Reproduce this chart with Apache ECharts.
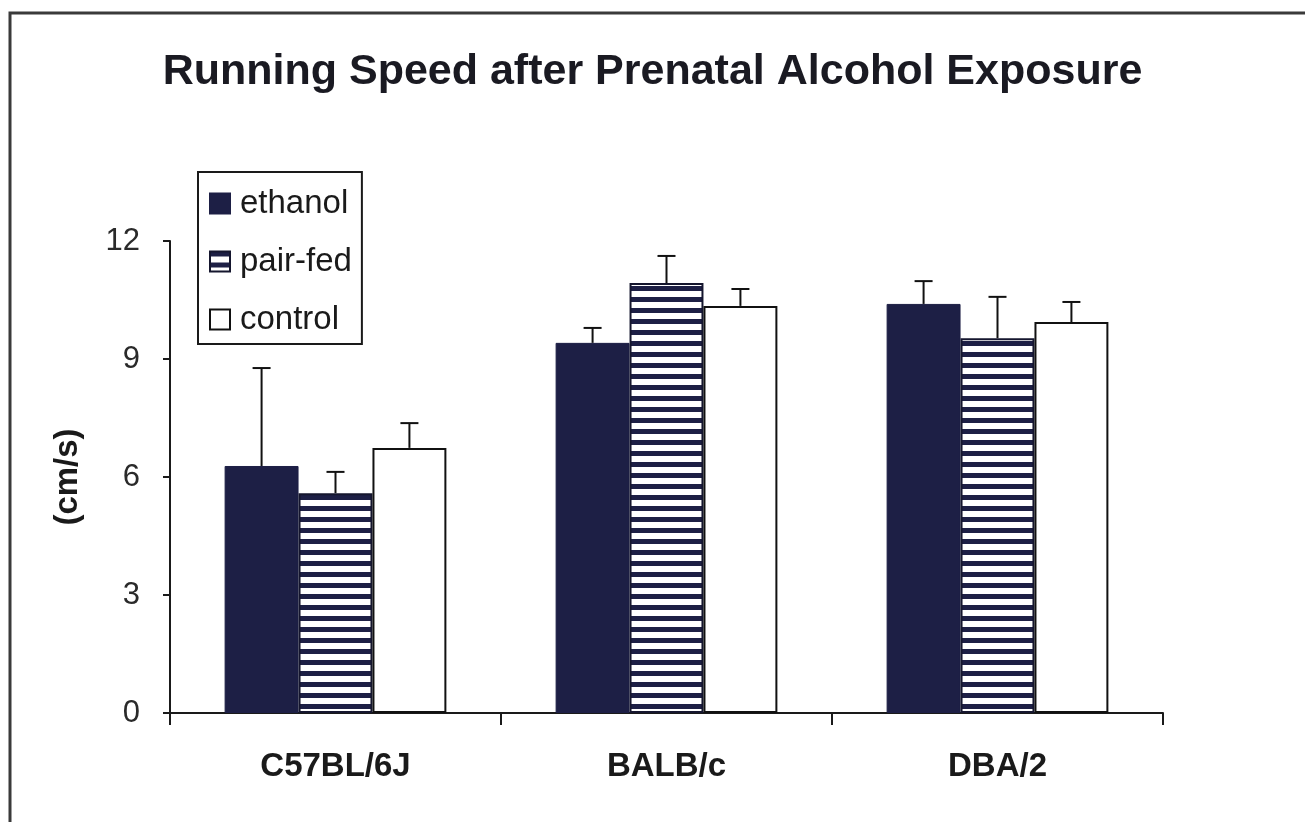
<!DOCTYPE html>
<html>
<head>
<meta charset="utf-8">
<script src="https://cdn.jsdelivr.net/npm/echarts@6/dist/echarts.min.js"></script>
<style>html,body{margin:0;padding:0;background:#fff;}#c{width:1305px;height:822px;}</style>
</head>
<body>
<div id="c"></div>
<script>
var categories = ['C57BL/6J', 'BALB/c', 'DBA/2'];
var seriesNames = ['ethanol', 'pair-fed', 'control'];
var ethanol = [6.28, 9.41, 10.40];
var pairFed = [5.59, 10.93, 9.53];
var control = [6.74, 10.35, 9.94];
var ethanolErr = [2.49, 0.38, 0.58];
var pairFedErr = [0.54, 0.69, 1.05];
var controlErr = [0.63, 0.43, 0.51];
var yTicks = [0, 3, 6, 9, 12];

var NAVY = '#1d1f45';
var FONT = '"Liberation Sans", Arial, sans-serif';

// stripe pattern for pair-fed
var pc = document.createElement('canvas');
pc.width = 8; pc.height = 11;
var pctx = pc.getContext('2d');
pctx.fillStyle = '#ffffff'; pctx.fillRect(0, 0, 8, 11);
pctx.fillStyle = NAVY; pctx.fillRect(0, 0, 8, 5);

var values = [ethanol, pairFed, control];
var errs = [ethanolErr, pairFedErr, controlErr];
var errData = [];
for (var s = 0; s < 3; s++) {
  for (var c = 0; c < categories.length; c++) {
    errData.push([c, values[s][c], values[s][c] + errs[s][c], s]);
  }
}
var GAP = 0.33;

var chart = echarts.init(document.getElementById('c'), null, {renderer: 'canvas'});
var styles = [
  {color: NAVY, borderColor: NAVY, borderWidth: 1},
  {color: {image: pc, repeat: 'repeat'}, borderColor: '#15162e', borderWidth: 2},
  {color: '#ffffff', borderColor: '#111111', borderWidth: 2}
];
var series = seriesNames.map(function (n, i) {
  return {
    name: n, type: 'bar', data: values[i],
    barGap: '0%', barCategoryGap: (GAP * 100) + '%',
    itemStyle: styles[i], emphasis: {disabled: true}, z: 2
  };
});
series.push({
  type: 'custom', z: 5, silent: true,
  data: errData,
  encode: {x: 0, y: [1, 2]},
  renderItem: function (params, api) {
    var cat = api.value(0), lo = api.value(1), hi = api.value(2), si = api.value(3);
    var band = api.size([1, 0])[0];
    var bw = band * (1 - GAP) / 3;
    var p0 = api.coord([cat, lo]);
    var p1 = api.coord([cat, hi]);
    var x = p0[0] + (si - 1) * bw;
    var cap = 9;
    return {
      type: 'group',
      children: [
        {type: 'line', shape: {x1: x, y1: p0[1], x2: x, y2: p1[1]}, style: {stroke: '#111', lineWidth: 2}},
        {type: 'line', shape: {x1: x - cap, y1: p1[1], x2: x + cap, y2: p1[1]}, style: {stroke: '#111', lineWidth: 2}}
      ]
    };
  }
});

chart.setOption({
  backgroundColor: '#ffffff',
  animation: false,
  title: {
    text: 'Running Speed after Prenatal Alcohol Exposure',
    left: 'center', top: 46,
    textStyle: {fontFamily: FONT, fontSize: 43, fontWeight: 'bold', color: '#1a1a22'}
  },
  graphic: [{
    type: 'rect', shape: {x: 10, y: 13, width: 1310, height: 830},
    style: {fill: 'none', stroke: '#3a3a3a', lineWidth: 3}, z: 0, silent: true
  }],
  legend: {
    data: seriesNames,
    orient: 'vertical', left: 198, top: 172,
    backgroundColor: '#ffffff', borderColor: '#1a1a1a', borderWidth: 2,
    padding: [15, 10, 8, 11],
    itemGap: 25, itemWidth: 20, itemHeight: 20,
    icon: 'rect',
    textStyle: {fontFamily: FONT, fontSize: 33, color: '#1a1a1a', lineHeight: 33, padding: [0, 0, 0, 5]}
  },
  grid: {left: 170, right: 142, top: 241, bottom: 109},
  xAxis: {
    type: 'category', data: categories,
    axisLine: {lineStyle: {color: '#1a1a1a', width: 2}},
    axisTick: {show: true, length: 12, lineStyle: {color: '#1a1a1a', width: 2}},
    axisLabel: {fontFamily: FONT, fontSize: 33, fontWeight: 'bold', color: '#1a1a1a', margin: 37}
  },
  yAxis: {
    type: 'value', min: yTicks[0], max: yTicks[yTicks.length - 1], interval: 3,
    name: '(cm/s)', nameLocation: 'middle', nameRotate: 90, nameGap: 86,
    nameTextStyle: {fontFamily: FONT, fontSize: 33, fontWeight: 'bold', color: '#1a1a1a'},
    axisLine: {show: true, lineStyle: {color: '#1a1a1a', width: 2}},
    axisTick: {show: true, length: 7, lineStyle: {color: '#1a1a1a', width: 2}},
    splitLine: {show: false},
    axisLabel: {fontFamily: FONT, fontSize: 31, color: '#2a2a2a', margin: 30}
  },
  series: series
});
</script>
</body>
</html>
